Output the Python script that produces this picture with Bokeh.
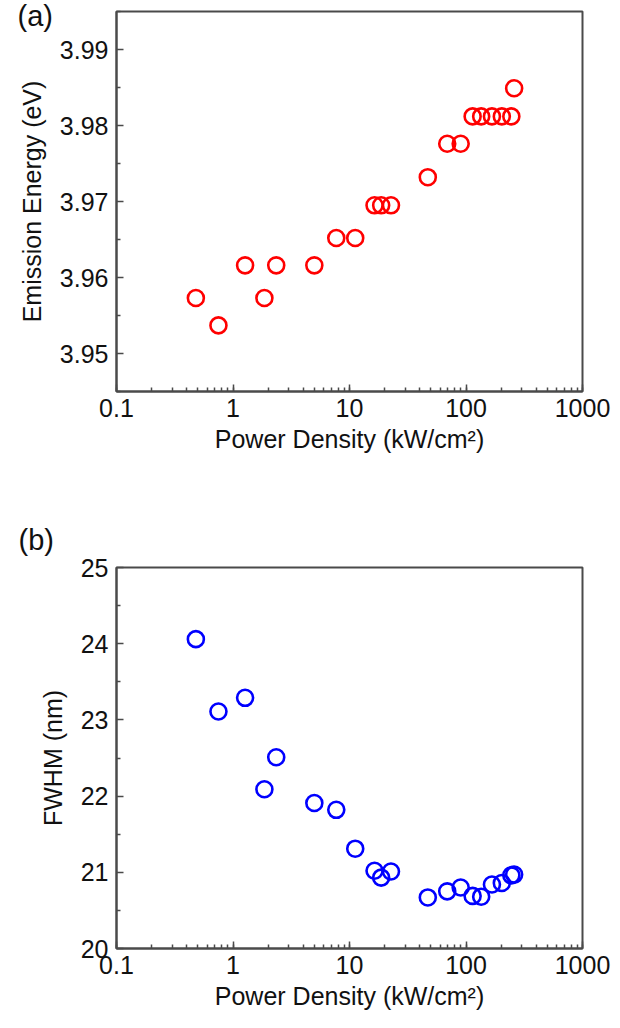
from bokeh.plotting import figure
from bokeh.layouts import column
from bokeh.models import (Range1d, FixedTicker, LogTicker, CustomJSTickFormatter,
                          ColumnDataSource, Title)
from bokeh.embed import file_html
from bokeh.resources import INLINE

# ---- data ----
power_density = [0.48, 0.75, 1.27, 1.86, 2.35, 4.99, 7.7, 11.2, 16.4, 18.7, 22.7,
                 47, 69, 90, 114, 135, 167, 203, 245, 259]
emission_energy = [3.9573, 3.9537, 3.9616, 3.9573, 3.9616, 3.9616, 3.9652, 3.9652,
                   3.9695, 3.9695, 3.9695, 3.9732, 3.9776, 3.9776, 3.9812, 3.9812,
                   3.9812, 3.9812, 3.9812, 3.9849]
fwhm = [24.06, 23.11, 23.29, 22.09, 22.51, 21.91, 21.82, 21.31, 21.02, 20.93, 21.01,
        20.67, 20.75, 20.80, 20.69, 20.68, 20.84, 20.86, 20.96, 20.97]

energy_ticks = [3.95, 3.96, 3.97, 3.98, 3.99]
energy_minor = [3.945, 3.955, 3.965, 3.975, 3.985, 3.995]
fwhm_ticks = [20, 21, 22, 23, 24, 25]
fwhm_minor = [20.5, 21.5, 22.5, 23.5, 24.5]

FONT = "Liberation Sans"
FRAME = "#4a4a4a"


def style(p, yticks, yminor, ytitle):
    p.outline_line_color = FRAME
    p.outline_line_width = 2
    p.outline_line_alpha = 1
    p.grid.visible = False
    p.background_fill_color = "white"
    p.border_fill_color = "white"
    p.xaxis.ticker = LogTicker(num_minor_ticks=10)
    p.xaxis.formatter = CustomJSTickFormatter(code="return tick.toString();")
    p.yaxis.ticker = FixedTicker(ticks=yticks, minor_ticks=yminor)
    for ax in (p.xaxis[0], p.yaxis[0]):
        ax.axis_line_color = FRAME
        ax.axis_line_width = 2
        ax.major_tick_line_color = FRAME
        ax.minor_tick_line_color = FRAME
        ax.major_tick_line_width = 1.5
        ax.minor_tick_line_width = 1.5
        ax.major_tick_in = 7
        ax.major_tick_out = 0
        ax.minor_tick_in = 4
        ax.minor_tick_out = 0
        ax.major_label_text_font = FONT
        ax.major_label_text_font_size = "25px"
        ax.major_label_text_color = "#111111"
        ax.axis_label_text_font = FONT
        ax.axis_label_text_font_size = "25px"
        ax.axis_label_text_font_style = "normal"
        ax.axis_label_text_color = "#111111"
    p.xaxis.axis_label = "Power Density (kW/cm\u00b2)"
    p.yaxis.axis_label = ytitle
    p.xaxis.major_label_standoff = 7
    p.xaxis.axis_label_standoff = 5
    p.yaxis.major_label_standoff = 8
    p.yaxis.axis_label_standoff = 11


# ---- panel (a) ----
pa = figure(width=620, height=510, x_axis_type="log", output_backend="svg",
            toolbar_location=None, x_range=Range1d(0.1, 1000),
            y_range=Range1d(3.945, 3.995),
            min_border_left=108, min_border_right=38, min_border_top=11,
            min_border_bottom=119)
style(pa, energy_ticks, energy_minor, "Emission Energy (eV)")
src_a = ColumnDataSource(dict(x=power_density, y=emission_energy))
pa.scatter("x", "y", source=src_a, marker="circle", size=16, fill_color=None,
           line_color="#ff0000", line_width=2.6)
pa.add_layout(Title(text="(a)", align="left", offset=-99, standoff=-41,
                    text_font=FONT, text_font_size="29px",
                    text_font_style="normal", text_color="#111111"), "above")

# ---- panel (b) ----
pb = figure(width=620, height=518, x_axis_type="log", output_backend="svg",
            toolbar_location=None, x_range=Range1d(0.1, 1000),
            y_range=Range1d(20, 25),
            min_border_left=116, min_border_right=30, min_border_top=56,
            min_border_bottom=80)
style(pb, fwhm_ticks, fwhm_minor, "FWHM (nm)")
src_b = ColumnDataSource(dict(x=power_density, y=fwhm))
pb.scatter("x", "y", source=src_b, marker="circle", size=16, fill_color=None,
           line_color="#0000ff", line_width=2.6)
pb.add_layout(Title(text="(b)", align="left", offset=-98, standoff=23,
                    text_font=FONT, text_font_size="29px",
                    text_font_style="normal", text_color="#111111"), "above")

layout = column(pa, pb, spacing=0)
open("out.html", "w").write(file_html(layout, INLINE))
